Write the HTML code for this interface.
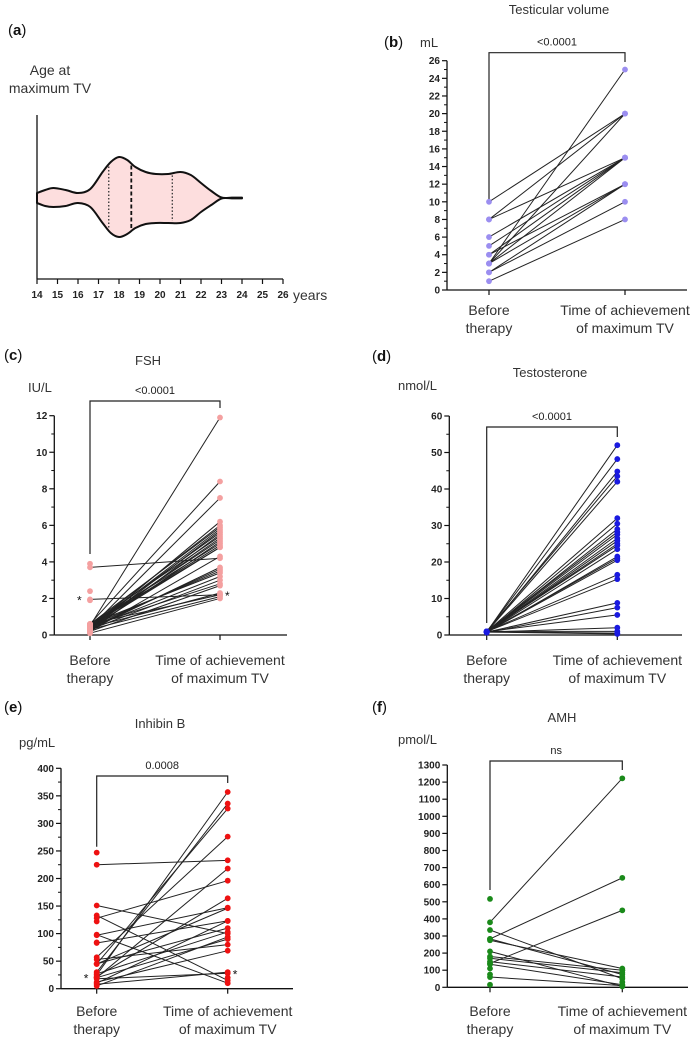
<!DOCTYPE html>
<html><head><meta charset="utf-8">
<style>
html,body{margin:0;padding:0;background:#fff;}
svg{display:block;font-family:"Liberation Sans",Arial,sans-serif;}
.tk{font-size:10px;font-weight:bold;fill:#222;}
.lab{font-size:14px;fill:#333;}
.tt{font-size:13px;fill:#333;}
.pv{font-size:11px;fill:#222;}
.pl{font-size:15px;fill:#111;}
</style></head>
<body>
<svg id="fig" width="700" height="1039" viewBox="0 0 700 1039" xmlns="http://www.w3.org/2000/svg">
<g id="panelA">
<text class="pl" x="8" y="35">(<tspan font-weight="bold">a</tspan>)</text>
<text class="lab" x="50" y="75" text-anchor="middle">Age at</text>
<text class="lab" x="50" y="93" text-anchor="middle">maximum TV</text>
</g>
</svg>
<script>
// ---------- Panel A data ----------
const violinAges = [14, 14.4, 14.8, 15.4, 16, 16.6, 17.2, 17.6, 18, 18.4, 18.8, 19.3, 19.8, 20.4, 21, 21.5, 22, 22.5, 23, 23.5, 24];
const violinUpper = [5, 8, 10, 8, 5, 9, 26, 36, 41, 38, 31, 26, 24, 24, 26, 23, 15, 7, 0.5, 0.4, 0.4];
const violinLower = [5, 8, 9, 8, 5, 9, 25, 35, 39, 36, 30, 26, 25, 25, 25, 22, 14, 7, 0.5, 0.4, 0.4];
const quartileAges = [17.5, 20.6];
const medianAge = 18.6;
const ageTicks = [14,15,16,17,18,19,20,21,22,23,24,25,26];

// ---------- Panel B: testicular volume ----------
const tvBefore = [10, 8, 8, 6, 5, 4, 3, 3, 3, 3, 2, 2, 1, 4];
const tvAfter  = [20, 20, 15, 15, 15, 12, 25, 20, 15, 12, 12, 10, 8, 15];
const tvTicks = [0,2,4,6,8,10,12,14,16,18,20,22,24,26];

// ---------- Panel C: FSH ----------
const fshBefore = [0.5, 0.6, 0.4, 0.3, 0.5, 0.6, 0.4, 0.3, 0.5, 0.2, 0.6, 0.4, 0.5, 0.3, 0.6, 0.5, 0.4, 0.2, 0.3, 0.5, 0.6, 0.4, 0.3, 0.5, 0.2, 0.4, 0.6, 0.3, 3.7, 1.95, 0.5, 0.4, 0.1];
const fshAfter  = [11.9, 8.4, 7.5, 6.2, 6.0, 5.9, 5.8, 5.7, 5.6, 5.5, 5.4, 5.3, 5.2, 5.1, 5.0, 4.9, 4.8, 4.3, 3.7, 3.5, 3.4, 3.2, 3.0, 2.8, 2.7, 2.3, 2.2, 2.1, 4.2, 2.2, 4.8, 3.6, 2.0];
const fshExtraBefore = [3.9, 2.4, 1.9, 0.1, 0.2];
const fshTicks = [0,2,4,6,8,10,12];

// ---------- Panel D: testosterone ----------
const tBefore = [0.8,0.9,0.7,1.0,0.8,0.9,0.7,0.8,1.0,0.9,0.8,0.7,0.9,1.0,0.8,0.7,0.9,0.8,1.0,0.9,0.8,0.7,0.9,0.8,1.0,0.9,0.8];
const tAfter  = [52, 48.2, 44.8, 43.5, 42, 32, 30.5, 29, 28.2, 27.5, 26.5, 25.8, 25, 24.5, 23.5, 21.5, 21, 20.5, 16.5, 15.3, 8.8, 7.5, 5.5, 2, 1, 0.5, 0.3];
const tTicks = [0,10,20,30,40,50,60];

// ---------- Panel E: inhibin B ----------
const inhBefore = [225, 151, 133, 98, 128, 97, 83, 45, 25, 30, 45, 57, 20, 22, 10, 5, 20, 45, 18, 8, 27, 53, 12];
const inhAfter  = [233, 100, 15, 10, 196, 147, 123, 146, 357, 336, 327, 276, 218, 164, 123, 94, 90, 110, 28, 30, 103, 80, 69];
const inhExtraBefore = [247, 122, 84, 20];
const inhExtraAfter = [20];
const inhTicks = [0,50,100,150,200,250,300,350,400];

// ---------- Panel F: AMH ----------
const amhBefore = [380, 283, 140, 335, 275, 180, 283, 170, 135, 60, 210, 150];
const amhAfter  = [1222, 640, 450, 50, 110, 100, 75, 85, 15, 10, 5, 60];
const amhExtraBefore = [517, 110, 75, 15];
const amhExtraAfter = [100, 30];
const amhTicks = [0,100,200,300,400,500,600,700,800,900,1000,1100,1200,1300];

const NS = "http://www.w3.org/2000/svg";
const fig = document.getElementById('fig');
function mk(tag, attrs, parent, text){
  const e = document.createElementNS(NS, tag);
  for (const k in attrs) e.setAttribute(k, attrs[k]);
  if (text !== undefined) e.textContent = text;
  (parent || fig).appendChild(e);
  return e;
}

// smooth path through points (Catmull-Rom)
function smooth(pts){
  let d = 'M' + pts[0][0].toFixed(1) + ',' + pts[0][1].toFixed(1);
  for (let i = 0; i < pts.length - 1; i++) {
    const p0 = pts[i-1] || pts[i], p1 = pts[i], p2 = pts[i+1], p3 = pts[i+2] || p2;
    const c1 = [p1[0] + (p2[0]-p0[0])/6, p1[1] + (p2[1]-p0[1])/6];
    const c2 = [p2[0] - (p3[0]-p1[0])/6, p2[1] - (p3[1]-p1[1])/6];
    d += 'C' + c1[0].toFixed(1) + ',' + c1[1].toFixed(1) + ' ' + c2[0].toFixed(1) + ',' + c2[1].toFixed(1) + ' ' + p2[0].toFixed(1) + ',' + p2[1].toFixed(1);
  }
  return d;
}

// ---------- Panel A drawing ----------
(function(){
  const g = document.getElementById('panelA');
  const x0 = 37, x1 = 283, yAxisTop = 115, yBase = 279, cy = 198;
  const ax = v => x0 + (v - 14) * (x1 - x0) / 12;
  const up = violinAges.map((a, i) => [ax(a), cy - violinUpper[i]]);
  const lo = violinAges.map((a, i) => [ax(a), cy + violinLower[i]]).reverse();
  let d = smooth(up) + smooth(lo).replace(/^M/, 'L') + 'Z';
  const v = mk('path', {d: d, fill: '#fddede', stroke: '#111', 'stroke-width': 2, 'stroke-linejoin': 'round'}, g);
  
  
  function halfAt(a, arr){
    for (let i = 0; i < violinAges.length - 1; i++) if (a >= violinAges[i] && a <= violinAges[i+1]) {
      const t = (a - violinAges[i]) / (violinAges[i+1] - violinAges[i]);
      return arr[i] + t * (arr[i+1] - arr[i]);
    }
    return 0;
  }
  quartileAges.forEach(q => {
    const l = mk('line', {x1: ax(q), x2: ax(q), y1: cy - halfAt(q, violinUpper) + 2, y2: cy + halfAt(q, violinLower) - 2, stroke: '#333', 'stroke-width': 1.3, 'stroke-dasharray': '1.5,2'}, g);
    
    
  });
  const m = mk('line', {x1: ax(medianAge), x2: ax(medianAge), y1: cy - halfAt(medianAge, violinUpper) + 2, y2: cy + halfAt(medianAge, violinLower) - 2, stroke: '#111', 'stroke-width': 1.8, 'stroke-dasharray': '4,2.5'}, g);
  
  
  const ya = mk('line', {x1: x0, x2: x0, y1: yAxisTop, y2: yBase, stroke: '#111', 'stroke-width': 1.3}, g);
  
  
  const xa = mk('line', {x1: x0, x2: x1, y1: yBase, y2: yBase, stroke: '#111', 'stroke-width': 1.3}, g);
  
  
  ageTicks.forEach(t => {
    mk('line', {x1: ax(t), x2: ax(t), y1: yBase, y2: yBase + 5, stroke: '#111', 'stroke-width': 1.2}, g);
    const tl = mk('text', {x: ax(t), y: yBase + 19, 'text-anchor': 'middle', 'class': 'tk', 'font-size': '11'}, g, String(t));
    
    
  });
  const yl = mk('text', {x: 293, y: 300, 'class': 'lab', 'font-size': '14'}, g, 'years');
  
  
})();

// ---------- Generic paired plot ----------
function paired(cfg){
  const g = mk('g', {});
  
  
  const ymax = cfg.ticks[cfg.ticks.length - 1];
  const sy = v => cfg.y0 - v * (cfg.y0 - cfg.yTop) / ymax;
  const pl = mk('text', {x: cfg.plx, y: cfg.ply, 'class': 'pl'}, g);
  mk('tspan', {}, pl, '(');
  mk('tspan', {'font-weight': 'bold'}, pl, cfg.letter);
  mk('tspan', {}, pl, ')');
  
  
  const tt = mk('text', {x: cfg.titleX, y: cfg.titleY, 'text-anchor': 'middle', 'class': 'tt'}, g, cfg.title);
  
  
  const un = mk('text', {x: cfg.unitX, y: cfg.unitY, 'class': 'tt'}, g, cfg.unit);
  
  
  const ya = mk('line', {x1: cfg.ax, x2: cfg.ax, y1: cfg.yTop, y2: cfg.y0, stroke: '#111', 'stroke-width': 1.3}, g);
  
  
  const xa = mk('line', {x1: cfg.ax, x2: cfg.xEnd, y1: cfg.y0, y2: cfg.y0, stroke: '#111', 'stroke-width': 1.3}, g);
  
  
  [cfg.xl, cfg.xr].forEach(x => mk('line', {x1: x, x2: x, y1: cfg.y0, y2: cfg.y0 + 5, stroke: '#111', 'stroke-width': 1.2}, g));
  cfg.ticks.forEach((t, i) => {
    mk('line', {x1: cfg.ax - 5, x2: cfg.ax, y1: sy(t), y2: sy(t), stroke: '#111', 'stroke-width': 1.2}, g);
    const tl = mk('text', {x: cfg.ax - 7, y: sy(t) + 3.5, 'text-anchor': 'end', 'class': 'tk'}, g, String(t));
    
    
    if (cfg.minor && i < cfg.ticks.length - 1) {
      const mv = (t + cfg.ticks[i+1]) / 2;
      mk('line', {x1: cfg.ax - 3, x2: cfg.ax, y1: sy(mv), y2: sy(mv), stroke: '#111', 'stroke-width': 1}, g);
    }
  });
  const br = mk('path', {d: `M${cfg.xl},${cfg.brL} V${cfg.brY} H${cfg.xr} V${cfg.brR}`, fill: 'none', stroke: '#222', 'stroke-width': 1.2}, g);
  
  
  const pv = mk('text', {x: (cfg.xl + cfg.xr) / 2, y: cfg.brY - 7, 'text-anchor': 'middle', 'class': 'pv'}, g, cfg.p);
  
  
  cfg.before.forEach((b, i) => {
    const l = mk('line', {x1: cfg.xl, y1: sy(b), x2: cfg.xr, y2: sy(cfg.after[i]), stroke: '#222', 'stroke-width': 1}, g);
    
    
  });
  const dots = (arr, x) => arr.forEach(v => {
    const c = mk('circle', {cx: x, cy: sy(v), r: 2.9, fill: cfg.color}, g);
    
    
  });
  dots(cfg.before, cfg.xl); dots(cfg.after, cfg.xr);
  dots(cfg.extraB || [], cfg.xl); dots(cfg.extraA || [], cfg.xr);
  (cfg.stars || []).forEach(s => {
    const st = mk('text', {x: s[0] === 'L' ? cfg.xl - 13 : cfg.xr + 5, y: sy(s[1]) + 5, 'font-size': '12', fill: '#111'}, g, '*');
    
    
  });
  const c1 = mk('text', {x: cfg.xl, y: cfg.catY, 'text-anchor': 'middle', 'class': 'lab'}, g, 'Before');
  
  
  const c2 = mk('text', {x: cfg.xl, y: cfg.catY + 18, 'text-anchor': 'middle', 'class': 'lab'}, g, 'therapy');
  
  
  const c3 = mk('text', {x: cfg.xr, y: cfg.catY, 'text-anchor': 'middle', 'class': 'lab'}, g, 'Time of achievement');
  
  
  const c4 = mk('text', {x: cfg.xr, y: cfg.catY + 18, 'text-anchor': 'middle', 'class': 'lab'}, g, 'of maximum TV');
  
  
}

paired({name:'panel-b-testicular-volume', letter:'b', plx:384, ply:47, title:'Testicular volume', titleX:559, titleY:14, unit:'mL', unitX:420, unitY:47,
  ax:447, xEnd:687, xl:489, xr:625, y0:290, yTop:60.7, ticks:tvTicks, minor:true, brY:52.7, brL:199, brR:62, p:'<0.0001',
  before:tvBefore, after:tvAfter, color:'#9b8ef0', catY:315});
paired({name:'panel-c-fsh', letter:'c', plx:4, ply:360, title:'FSH', titleX:148, titleY:365, unit:'IU/L', unitX:28, unitY:392,
  ax:54.3, xEnd:287, xl:90, xr:220, y0:635, yTop:415.7, ticks:fshTicks, minor:true, brY:401, brL:554, brR:408, p:'<0.0001',
  before:fshBefore, after:fshAfter, extraB:fshExtraBefore, color:'#f4a0a0', stars:[['L',1.95],['R',2.2]], catY:665});
paired({name:'panel-d-testosterone', letter:'d', plx:372, ply:361, title:'Testosterone', titleX:550, titleY:377, unit:'nmol/L', unitX:398, unitY:390,
  ax:449.3, xEnd:682, xl:486.7, xr:617.3, y0:635, yTop:416, ticks:tTicks, minor:true, brY:427, brL:623, brR:437, p:'<0.0001',
  before:tBefore, after:tAfter, color:'#1a1ae0', catY:665});
paired({name:'panel-e-inhibin-b', letter:'e', plx:4, ply:712, title:'Inhibin B', titleX:160, titleY:728, unit:'pg/mL', unitX:19, unitY:747,
  ax:61, xEnd:293, xl:96.7, xr:227.7, y0:988.7, yTop:768.3, ticks:inhTicks, minor:true, brY:776, brL:846.7, brR:783, p:'0.0008',
  before:inhBefore, after:inhAfter, extraB:inhExtraBefore, extraA:inhExtraAfter, color:'#ee1111', stars:[['L',20],['R',28]], catY:1016});
paired({name:'panel-f-amh', letter:'f', plx:372, ply:712, title:'AMH', titleX:562, titleY:722, unit:'pmol/L', unitX:398, unitY:744,
  ax:447.3, xEnd:688, xl:490, xr:622.3, y0:987.3, yTop:765, ticks:amhTicks, minor:false, brY:761, brL:890, brR:770, p:'ns',
  before:amhBefore, after:amhAfter, extraB:amhExtraBefore, extraA:amhExtraAfter, color:'#1a8a1a', catY:1016});
</script>
</body></html>
